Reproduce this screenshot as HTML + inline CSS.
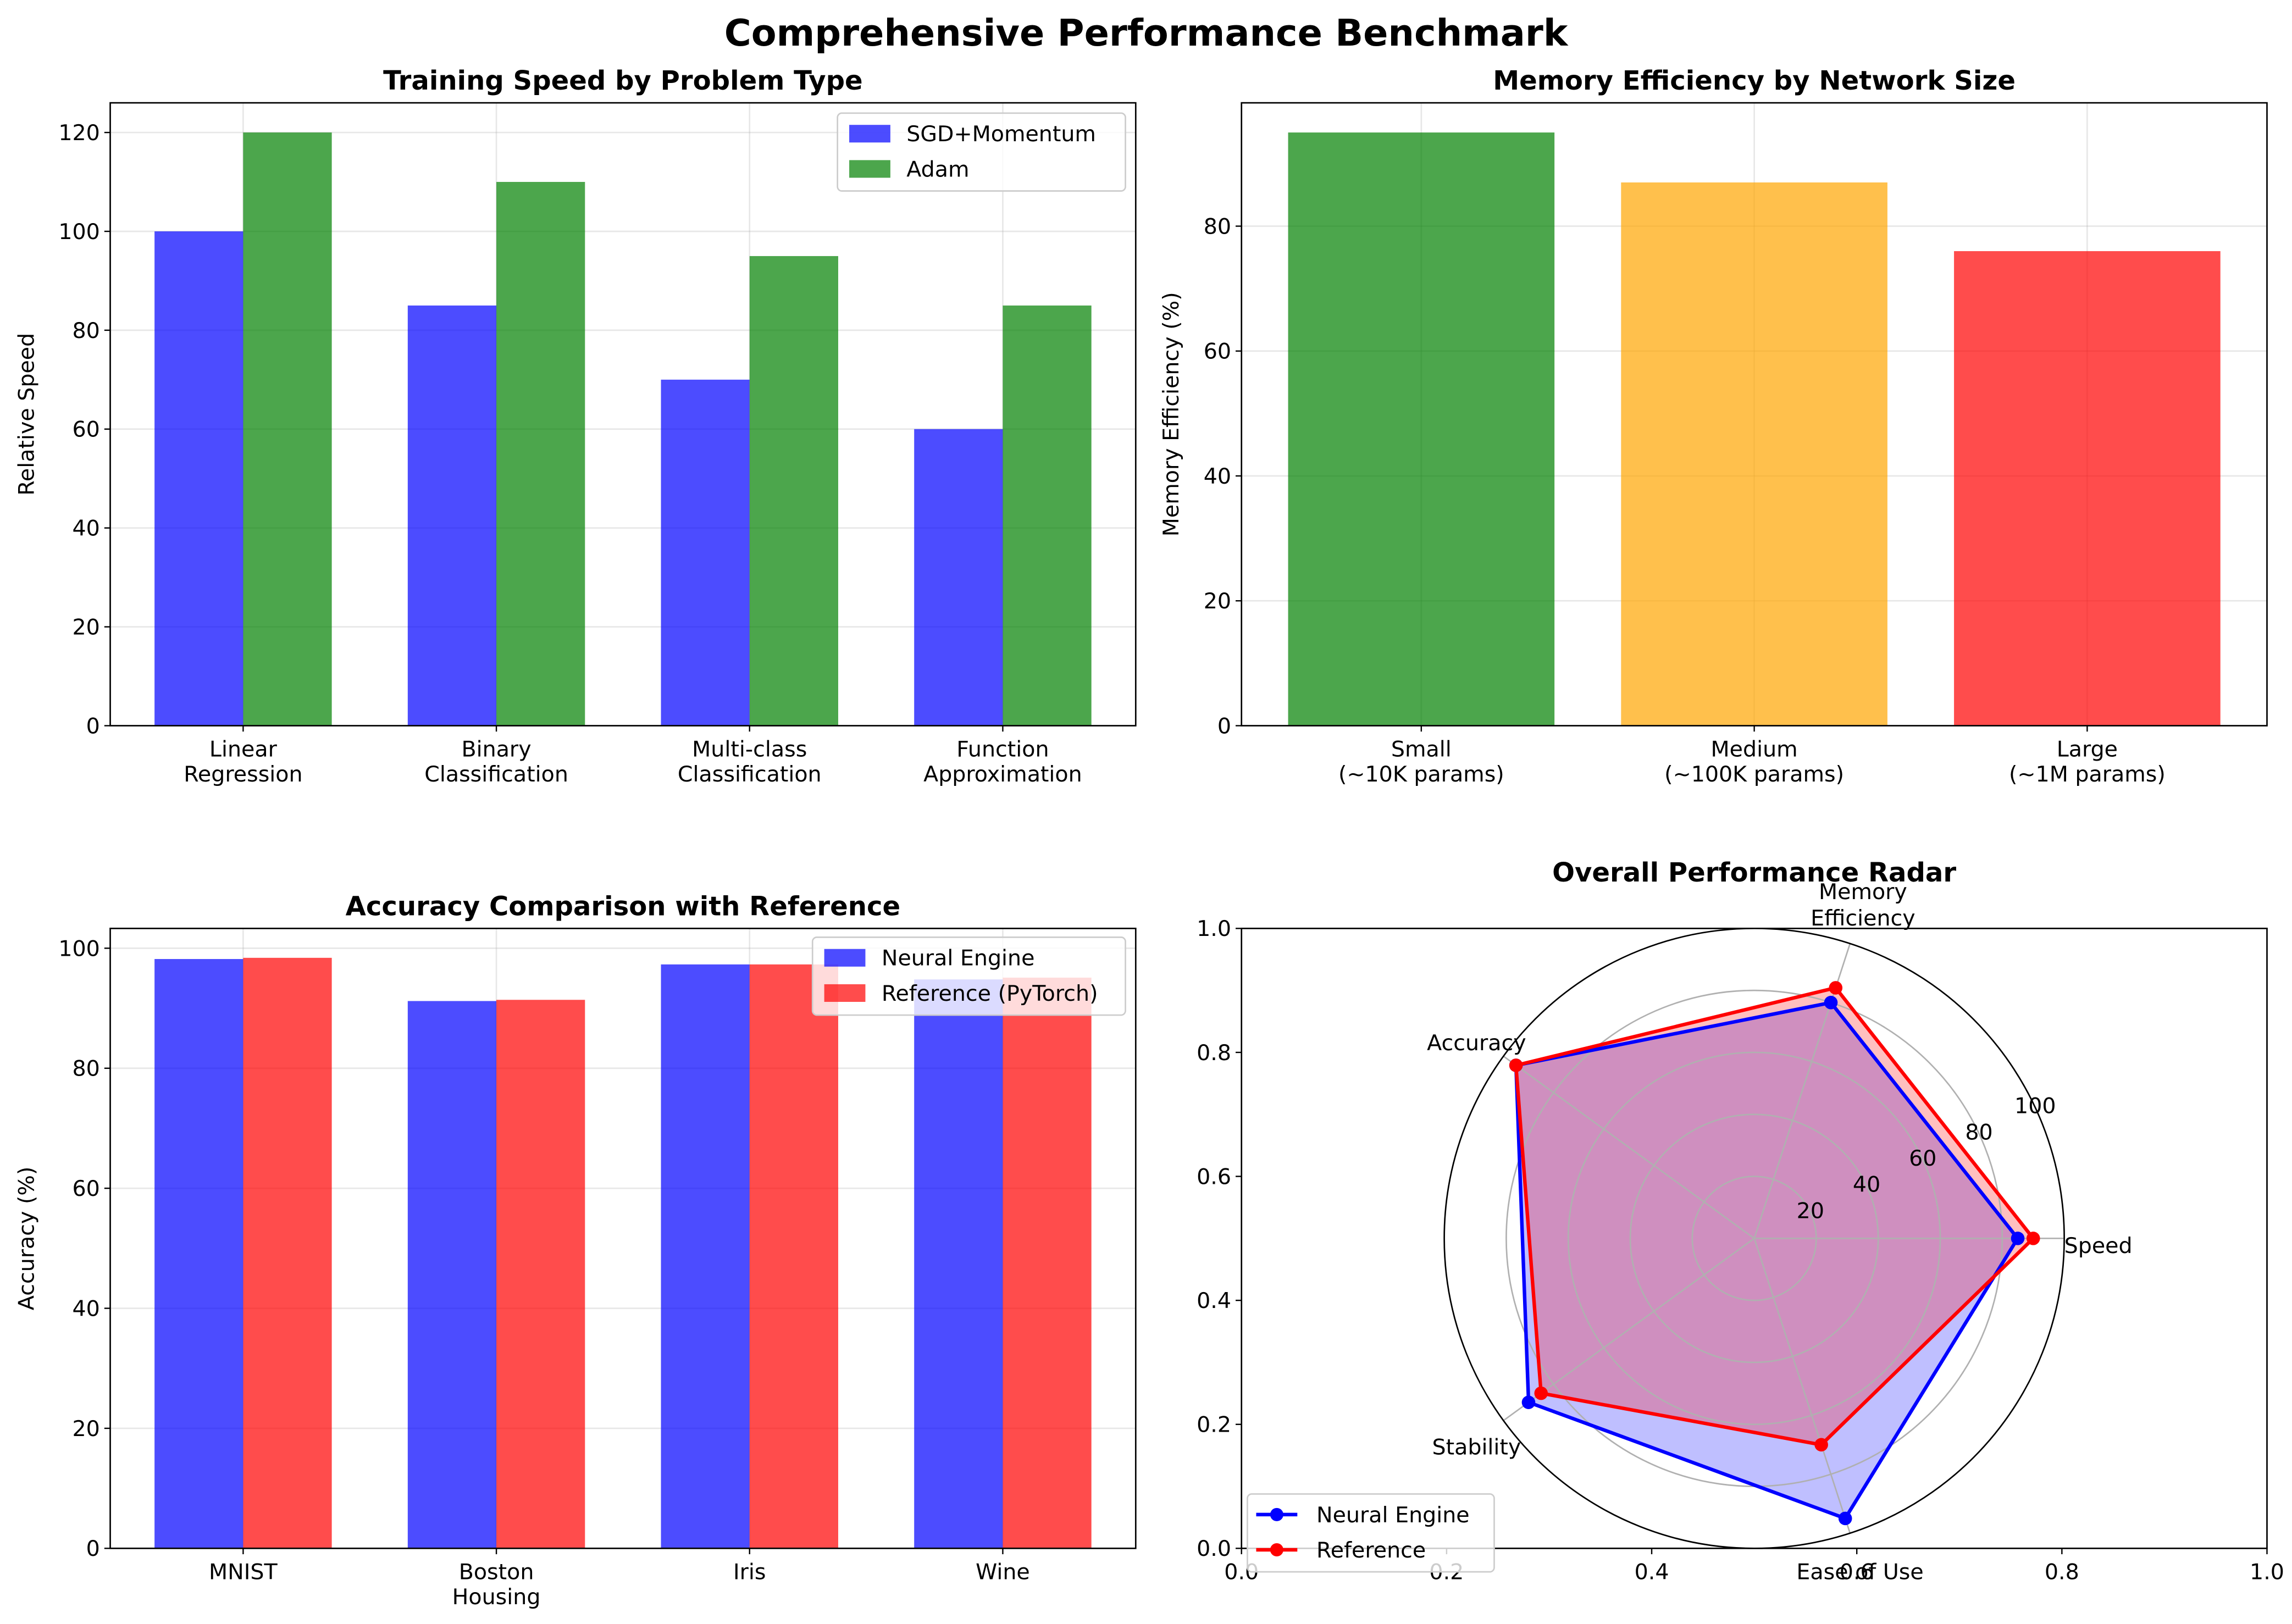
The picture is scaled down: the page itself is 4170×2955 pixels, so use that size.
<!DOCTYPE html>
<html><head><meta charset="utf-8">
<style>
html,body{margin:0;padding:0;background:#fff;}
svg{display:block;font-family:"DejaVu Sans","Liberation Sans",sans-serif;}
</style></head>
<body>
<svg id="fig" width="4170" height="2955" viewBox="0 0 1560 1105.5" xmlns="http://www.w3.org/2000/svg">
<rect width="1560" height="1105.5" fill="#fff"/>
<text x="780" y="31" text-anchor="middle" font-size="25" font-weight="bold">Comprehensive Performance Benchmark</text>
</svg>
<script>
// ---- data ----
const speedCategories = [["Linear","Regression"],["Binary","Classification"],["Multi-class","Classification"],["Function","Approximation"]];
const sgdSpeed = [100, 85, 70, 60];
const adamSpeed = [120, 110, 95, 85];
const speedTicks = [0, 20, 40, 60, 80, 100, 120];

const sizeCategories = [["Small","(~10K params)"],["Medium","(~100K params)"],["Large","(~1M params)"]];
const memoryValues = [95, 87, 76];
const memoryColors = ["rgba(0,128,0,0.7)","rgba(255,165,0,0.7)","rgba(255,0,0,0.7)"];
const memoryTicks = [0, 20, 40, 60, 80];

const datasetCategories = [["MNIST"],["Boston","Housing"],["Iris"],["Wine"]];
const engineAccuracy = [98.2, 91.2, 97.3, 94.8];
const referenceAccuracy = [98.4, 91.4, 97.3, 95.1];
const accuracyTicks = [0, 20, 40, 60, 80, 100];

const radarAxes = [["Speed"],["Memory","Efficiency"],["Accuracy"],["Stability"],["Ease of Use"]];
const radarEngine = [85, 80, 95, 90, 95];
const radarReference = [90, 85, 95, 85, 70];
const radarTicks = [20, 40, 60, 80, 100];
const cartTicks = [0, 0.2, 0.4, 0.6, 0.8, 1.0];

const NS = "http://www.w3.org/2000/svg";
const fig = document.getElementById('fig');
function el(tag, attrs, parent, text){
  const e = document.createElementNS(NS, tag);
  for (const k in attrs) e.setAttribute(k, attrs[k]);
  if (text !== undefined) e.textContent = text;
  (parent || fig).appendChild(e);
  return e;
}
const BLUE="rgba(0,0,255,0.7)", GREEN="rgba(0,128,0,0.7)", RED="rgba(255,0,0,0.7)";
const FS = 14.8;

function makeAxes(name, x0, y0, x1, y1, xmin, xmax, ymin, ymax){
  const g = el('g', {});
  
  
  const sx = v => x0 + (v - xmin) / (xmax - xmin) * (x1 - x0);
  const sy = v => y1 - (v - ymin) / (ymax - ymin) * (y1 - y0);
  return {g, sx, sy, x0, y0, x1, y1};
}
function frame(a){
  const r = el('rect', {x:a.x0, y:a.y0, width:a.x1-a.x0, height:a.y1-a.y0, fill:'none', stroke:'#000', 'stroke-width':1}, a.g);
  
  
}
function yTicks(a, ticks, fmt){
  ticks.forEach(t => {
    const y = a.sy(t);
    el('line', {x1:a.x0, x2:a.x1, y1:y, y2:y, stroke:'#b0b0b0', 'stroke-opacity':0.3, 'stroke-width':1}, a.g);
    el('line', {x1:a.x0-4, x2:a.x0, y1:y, y2:y, stroke:'#000', 'stroke-width':0.9}, a.g);
    const t1 = el('text', {x:a.x0-7, y:y+5.2, 'text-anchor':'end', 'font-size':FS}, a.g, fmt ? fmt(t) : String(t));
    
    
  });
}
function xCatTicks(a, cats, grid){
  cats.forEach((c, i) => {
    const x = a.sx(i);
    if (grid) el('line', {x1:x, x2:x, y1:a.y0, y2:a.y1, stroke:'#b0b0b0', 'stroke-opacity':0.3, 'stroke-width':1}, a.g);
    el('line', {x1:x, x2:x, y1:a.y1, y2:a.y1+4, stroke:'#000', 'stroke-width':0.9}, a.g);
    c.forEach((line, j) => {
      const t = el('text', {x:x, y:a.y1+21+j*17, 'text-anchor':'middle', 'font-size':FS}, a.g, line);
      
      
    });
  });
}
function title(a, txt, name){
  const t = el('text', {x:(a.x0+a.x1)/2, y:a.y0-9, 'text-anchor':'middle', 'font-size':18, 'font-weight':'bold'}, a.g, txt);
  
  
}
function ylabel(a, txt, x){
  const cy = (a.y0+a.y1)/2;
  const t = el('text', {x:x, y:cy, 'text-anchor':'middle', 'font-size':FS, transform:`rotate(-90 ${x} ${cy})`}, a.g, txt);
  
  
}
function bar(a, xc, w, v, color, name){
  const r = el('rect', {x:a.sx(xc-w/2), y:a.sy(v), width:a.sx(xc+w/2)-a.sx(xc-w/2), height:a.sy(0)-a.sy(v), fill:color}, a.g);
  
  
}
function legend(a, x, y, w, entries, name, kind){
  const g = el('g', {}, a.g);
  
  
  el('rect', {x:x, y:y, width:w, height:entries.length*24+5, rx:3, fill:'#fff', 'fill-opacity':0.8, stroke:'#ccc', 'stroke-width':1}, g);
  entries.forEach((e, i) => {
    const cy = y + 14 + i*24;
    if (kind === 'line'){
      el('line', {x1:x+6, x2:x+34, y1:cy, y2:cy, stroke:e[1], 'stroke-width':2.4}, g);
      el('circle', {cx:x+20, cy:cy, r:4.5, fill:e[1]}, g);
    } else {
      el('rect', {x:x+8, y:cy-6, width:28, height:12, fill:e[1]}, g);
    }
    const t = el('text', {x:x+47, y:cy+5.2, 'font-size':FS}, g, e[0]);
    
    
  });
}

// ---- Panel 1: training speed ----
{
  const a = makeAxes('training-speed-chart', 75, 70, 773, 494, -0.525, 3.525, 0, 126);
  yTicks(a, speedTicks);
  xCatTicks(a, speedCategories, true);
  const w = 0.35;
  sgdSpeed.forEach((v, i) => bar(a, i - w/2, w, v, BLUE, 'bar-sgd-momentum'));
  adamSpeed.forEach((v, i) => bar(a, i + w/2, w, v, GREEN, 'bar-adam'));
  frame(a);
  title(a, 'Training Speed by Problem Type', 'training-speed-title');
  ylabel(a, 'Relative Speed', 23);
  legend(a, 570, 77, 196, [['SGD+Momentum', BLUE], ['Adam', GREEN]], 'training-speed-legend');
}
// ---- Panel 2: memory efficiency ----
{
  const a = makeAxes('memory-efficiency-chart', 845, 70, 1543, 494, -0.54, 2.54, 0, 99.75);
  yTicks(a, memoryTicks);
  xCatTicks(a, sizeCategories, true);
  memoryValues.forEach((v, i) => bar(a, i, 0.8, v, memoryColors[i], 'bar-memory-efficiency'));
  frame(a);
  title(a, 'Memory Efficiency by Network Size', 'memory-efficiency-title');
  ylabel(a, 'Memory Efficiency (%)', 802);
}
// ---- Panel 3: accuracy ----
{
  const a = makeAxes('accuracy-chart', 75, 632, 773, 1054, -0.525, 3.525, 0, 103.3);
  yTicks(a, accuracyTicks);
  xCatTicks(a, datasetCategories, true);
  const w = 0.35;
  engineAccuracy.forEach((v, i) => bar(a, i - w/2, w, v, BLUE, 'bar-neural-engine'));
  referenceAccuracy.forEach((v, i) => bar(a, i + w/2, w, v, RED, 'bar-reference'));
  frame(a);
  title(a, 'Accuracy Comparison with Reference', 'accuracy-title');
  ylabel(a, 'Accuracy (%)', 23);
  legend(a, 553, 638, 213, [['Neural Engine', BLUE], ['Reference (PyTorch)', RED]], 'accuracy-legend');
}
// ---- Panel 4: radar ----
{
  const a = makeAxes('performance-radar-chart', 845, 632, 1543, 1054, 0, 1, 0, 1);
  cartTicks.forEach(t => {
    const x = a.sx(t), y = a.sy(t);
    el('line', {x1:x, x2:x, y1:a.y1, y2:a.y1+4, stroke:'#000', 'stroke-width':0.9}, a.g);
    const tx = el('text', {x:x, y:a.y1+21, 'text-anchor':'middle', 'font-size':FS}, a.g, t.toFixed(1));
    
    
    el('line', {x1:a.x0-4, x2:a.x0, y1:y, y2:y, stroke:'#000', 'stroke-width':0.9}, a.g);
    const ty = el('text', {x:a.x0-7, y:y+5.2, 'text-anchor':'end', 'font-size':FS}, a.g, t.toFixed(1));
    
    
  });
  frame(a);
  const cx = 1194, cy = 843, R = 211, rmax = 100;
  const N = radarAxes.length;
  const ang = i => i * 2 * Math.PI / N;
  const px = (v, i) => cx + v / rmax * R * Math.cos(ang(i));
  const py = (v, i) => cy - v / rmax * R * Math.sin(ang(i));
  el('circle', {cx:cx, cy:cy, r:R, fill:'#fff', stroke:'none'}, a.g);
  function series(vals, color, fillc, name){
    const pts = vals.map((v, i) => px(v, i).toFixed(1) + ',' + py(v, i).toFixed(1)).join(' ');
    const pf = el('polygon', {points:pts, fill:fillc, stroke:'none'}, a.g);
    
    
    return pts;
  }
  const p1 = series(radarEngine, '#0000ff', 'rgba(0,0,255,0.25)', 'radar-neural-engine');
  const p2 = series(radarReference, '#ff0000', 'rgba(255,0,0,0.25)', 'radar-reference');
  radarTicks.forEach(t => {
    if (t < rmax) el('circle', {cx:cx, cy:cy, r:t/rmax*R, fill:'none', stroke:'#b0b0b0', 'stroke-width':1}, a.g);
  });
  radarAxes.forEach((lab, i) => {
    el('line', {x1:cx, y1:cy, x2:px(rmax, i), y2:py(rmax, i), stroke:'#b0b0b0', 'stroke-width':1}, a.g);
  });
  function outline(pts, vals, color, name){
    const pl = el('polygon', {points:pts, fill:'none', stroke:color, 'stroke-width':2.4, 'stroke-linejoin':'round'}, a.g);
    
    
    vals.forEach((v, i) => {
      const c = el('circle', {cx:px(v, i), cy:py(v, i), r:4.6, fill:color}, a.g);
      
      
    });
  }
  outline(p1, radarEngine, '#0000ff', 'radar-neural-engine');
  outline(p2, radarReference, '#ff0000', 'radar-reference');
  el('circle', {cx:cx, cy:cy, r:R, fill:'none', stroke:'#000', 'stroke-width':1}, a.g);
  const la = 25 * Math.PI / 180;
  radarTicks.forEach(t => {
    const r = t / rmax * R;
    const tt = el('text', {x:cx + r*Math.cos(la), y:cy - r*Math.sin(la) + 4, 'text-anchor':'middle', 'font-size':FS}, a.g, String(t));
    
    
  });
  const labelPos = [[1405, 848, 'start'], [1268, 616, 'middle'], [1005, 710, 'middle'], [1005, 985, 'middle'], [1266, 1070, 'middle']];
  radarAxes.forEach((lab, i) => {
    const [x, y, anchor] = labelPos[i];
    lab.forEach((line, j) => {
      const t = el('text', {x:x, y:y + 5 + (j - (lab.length-1)/2) * 18, 'text-anchor':anchor, 'font-size':FS}, a.g, line);
      
      
    });
  });
  const t = el('text', {x:cx, y:600, 'text-anchor':'middle', 'font-size':18, 'font-weight':'bold'}, a.g, 'Overall Performance Radar');
  
  
  legend(a, 849, 1017, 168, [['Neural Engine', '#0000ff'], ['Reference', '#ff0000']], 'radar-legend', 'line');
}
</script>
</body></html>
